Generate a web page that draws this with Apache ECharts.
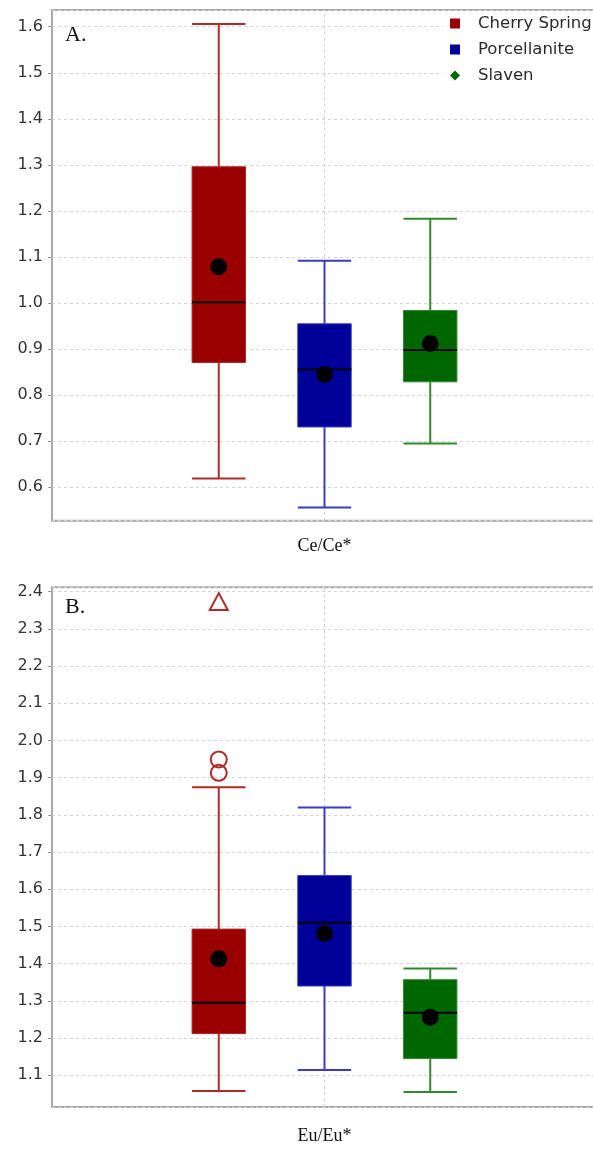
<!DOCTYPE html>
<html>
<head>
<meta charset="utf-8">
<script src="https://cdn.jsdelivr.net/npm/echarts@6/dist/echarts.min.js"></script>
<style>
  html, body { margin: 0; padding: 0; background: #fff; }
  #chart { width: 593px; height: 1150px; }
</style>
</head>
<body>
<div id="chart"></div>
<script>
// Source groups (one box per group in each panel)
const groups = ['Cherry Spring', 'Porcellanite', 'Slaven'];

// Panel A – Ce/Ce*: [min, Q1, median, Q3, max] per group
const ceCategory = ['Ce/Ce*'];
const ceBoxes = [
  [0.619, 0.871, 1.002, 1.296, 1.606],
  [0.556, 0.731, 0.856, 0.955, 1.092],
  [0.695, 0.829, 0.898, 0.984, 1.183]
];
const ceMeans = [1.079, 0.845, 0.912];
const ceOutliers = [[], [], []];
const ceFarOut = [[], [], []];

// Panel B – Eu/Eu*
const euCategory = ['Eu/Eu*'];
const euBoxes = [
  [1.058, 1.212, 1.295, 1.493, 1.874],
  [1.114, 1.340, 1.510, 1.637, 1.820],
  [1.055, 1.145, 1.268, 1.357, 1.387]
];
const euMeans = [1.413, 1.481, 1.256];
const euOutliers = [[1.913, 1.949], [], []];
const euFarOut = [[2.372], [], []];

// Panel titles
const panelLetters = ['A.', 'B.'];

// Styling
const boxColors = ['#990000', '#000099', '#006600'];
const whiskerColors = ['#b02a2a', '#3b3bc4', '#2f8a2f'];
const legendIcons = ['rect', 'rect', 'diamond'];
const GROUP_SPREAD = 0.194;   // offset between neighbouring boxes, as a share of the band
const BOX_SHARE = 0.098;      // box width as a share of the band

const panels = [
  { category: ceCategory, boxes: ceBoxes, means: ceMeans, outliers: ceOutliers, farOut: ceFarOut },
  { category: euCategory, boxes: euBoxes, means: euMeans, outliers: euOutliers, farOut: euFarOut }
];

function seg(x1, y1, x2, y2, style) {
  return { type: 'line', shape: { x1, y1, x2, y2 }, style };
}

function drawBox(api, g, panel) {
  const cat = api.value(0);
  const band = api.size([1, 0])[0];
  const cx = api.coord([cat, api.value(3)])[0] + (g - 1) * band * GROUP_SPREAD;
  const hw = band * BOX_SHARE / 2;
  const py = v => api.coord([cat, v])[1];
  const [yMin, yQ1, yMed, yQ3, yMax, yMean] = [1, 2, 3, 4, 5, 6].map(i => py(api.value(i)));
  const wStyle = { stroke: whiskerColors[g], lineWidth: 2 };
  const children = [
    seg(cx, yQ1, cx, yMin, wStyle),
    seg(cx, yQ3, cx, yMax, wStyle),
    seg(cx - hw, yMin, cx + hw, yMin, wStyle),
    seg(cx - hw, yMax, cx + hw, yMax, wStyle),
    { type: 'rect', shape: { x: cx - hw, y: yQ3, width: 2 * hw, height: yQ1 - yQ3 },
      style: { fill: boxColors[g], stroke: whiskerColors[g], lineWidth: 1 } },
    seg(cx - hw, yMed, cx + hw, yMed, { stroke: '#000', lineWidth: 2 }),
    { type: 'circle', shape: { cx, cy: yMean, r: 8.5 }, style: { fill: '#000' } }
  ];
  panel.outliers[g].forEach(v => {
    children.push({ type: 'circle', shape: { cx, cy: py(v), r: 8 },
      style: { fill: 'none', stroke: whiskerColors[g], lineWidth: 2 } });
  });
  panel.farOut[g].forEach(v => {
    const y = py(v);
    children.push({ type: 'polygon', shape: { points: [[cx, y - 9], [cx - 9, y + 8], [cx + 9, y + 8]] },
      style: { fill: 'none', stroke: whiskerColors[g], lineWidth: 2 } });
  });
  return { type: 'group', children };
}

const series = [];
panels.forEach((panel, p) => {
  groups.forEach((name, g) => {
    series.push({
      type: 'custom',
      name,
      xAxisIndex: p,
      yAxisIndex: p,
      itemStyle: { color: boxColors[g] },
      encode: { x: 0, y: [1, 2, 3, 4, 5, 6] },
      data: [[0, ...panel.boxes[g], panel.means[g]]],
      renderItem: (params, api) => drawBox(api, g, panel),
      z: 3,
      markLine: g === 1 ? {
        silent: true, symbol: 'none', label: { show: false },
        lineStyle: { type: [3, 3], color: '#d0d0d0', width: 1 },
        data: [{ xAxis: 0 }], z: 1
      } : undefined
    });
  });
});

const yRanges = [[0.5275, 1.6363], [1.0148, 2.4118]];
// plot frames run a little past the right edge of the canvas
const gridBoxes = [{ top: 10, height: 510.7 }, { top: 587.3, height: 519.7 }];
const xLabelMargins = [17, 20];

const tickLabel = v => {
  const r = Math.round(v * 10);
  return Math.abs(v * 10 - r) < 1e-6 ? (r / 10).toFixed(1) : '';
};

const option = {
  animation: false,
  backgroundColor: '#fff',
  grid: gridBoxes.map(b => ({
    left: 52, width: 545, top: b.top, height: b.height,
    outerBoundsMode: 'none', containLabel: false,
    show: true, borderColor: '#a9a9a9', borderWidth: 2, backgroundColor: 'transparent'
  })),
  xAxis: panels.map((panel, p) => ({
    type: 'category', gridIndex: p, data: panel.category,
    axisLine: { show: false }, axisTick: { show: false }, splitLine: { show: false },
    axisLabel: { margin: xLabelMargins[p], fontFamily: 'Liberation Serif', fontSize: 18, color: '#111' }
  })),
  yAxis: yRanges.map((r, p) => ({
    type: 'value', gridIndex: p, min: r[0], max: r[1],
    minInterval: 0.1, maxInterval: 0.1, splitNumber: 12,
    axisLine: { show: false },
    axisTick: { show: true, length: 4, lineStyle: { color: '#999' } },
    axisLabel: { formatter: tickLabel, showMinLabel: false, showMaxLabel: false, margin: 9,
      fontFamily: 'DejaVu Sans', fontSize: 16, color: '#333' },
    splitLine: { show: true, lineStyle: { type: [3, 3], color: '#d4d4d4', width: 1 } }
  })),
  legend: {
    left: 443, top: 11,
    orient: 'vertical',
    backgroundColor: '#fff',
    padding: [4, 10, 6, 7],
    itemWidth: 10, itemHeight: 10, itemGap: 9,
    textStyle: { fontFamily: 'DejaVu Sans', fontSize: 16.5, color: '#2a2a2a', padding: [0, 0, 0, 13] },
    data: groups.map((name, g) => ({ name, icon: legendIcons[g], itemStyle: { color: boxColors[g] } }))
  },
  graphic: panelLetters.map((t, p) => ({
    type: 'text', left: 65, top: p === 0 ? 24 : 596,
    style: { text: t, fontFamily: 'Liberation Serif', fontSize: 22, fill: '#111' }, z: 10
  })),
  series
};

echarts.init(document.getElementById('chart'), null, { renderer: 'canvas' }).setOption(option);
</script>
</body>
</html>
